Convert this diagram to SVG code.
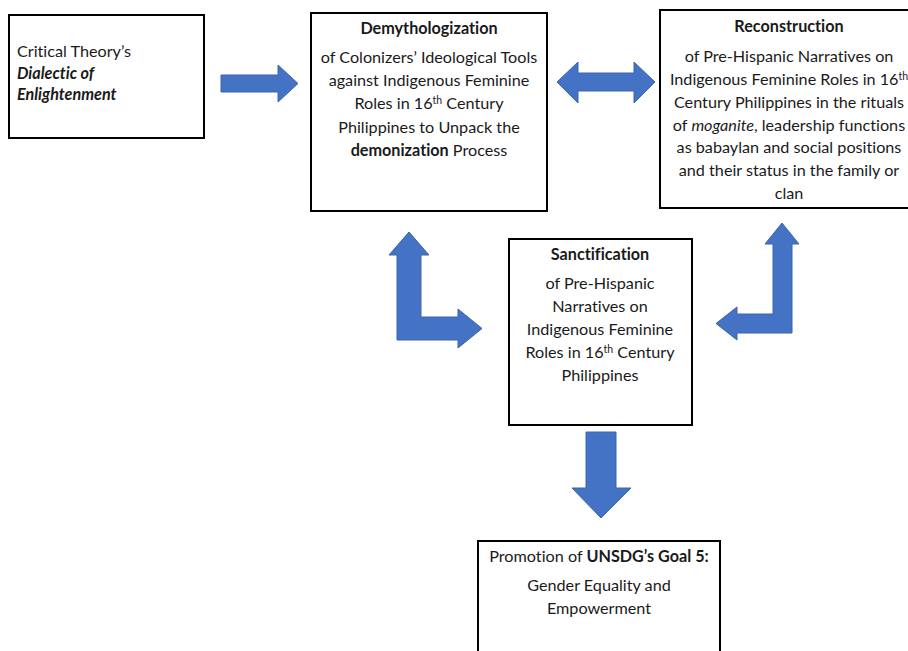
<svg xmlns="http://www.w3.org/2000/svg" width="908" height="651" viewBox="0 0 908 651">
<style>
.box{fill:#fff;stroke:#000;stroke-width:2}
.arr{fill:#4472C4;stroke:#3b64ad;stroke-width:1}
text{font-family:Lato,"Liberation Sans",sans-serif;font-size:16.2px;fill:#1a1a1a;font-variant-ligatures:none}
.c{text-anchor:middle}
.b{font-weight:bold}
.i{font-style:italic}
.sup{font-size:10.5px}
</style>
<rect width="908" height="651" fill="#fff"/>
<g id="connectors">
<polygon class="arr" points="221,75 278,75 278,65 298,83.5 278,102 278,92 221,92"/>
<polygon class="arr" points="557,82 578,62 578,73 634,73 634,62 655,82 634,103 634,91 578,91 578,103"/>
<polygon class="arr" points="409,232 429,255 421,255 421,317 458,317 458,309 482,328.5 458,348 458,340 397,340 397,255 389,255"/>
<polygon class="arr" points="782,223 799,244 792,244 792,333 737,333 737,340 716,323.5 737,307 737,314 773,314 773,244 765,244"/>
<polygon class="arr" points="586,432 616,432 616,488 631,488 601,518 572,488 586,488"/>
</g>
<g id="critical-theory">
<rect class="box" x="9" y="15" width="195" height="123"/>
<text x="17" y="57">Critical Theory’s</text>
<text x="17" y="79" class="b i">Dialectic of</text>
<text x="17" y="100" class="b i">Enlightenment</text>
</g>
<g id="demythologization">
<rect class="box" x="311" y="13" width="236" height="198"/>
<text x="429" y="34" class="c b">Demythologization</text>
<text x="429" y="63" class="c">of Colonizers’ Ideological Tools</text>
<text x="429" y="86" class="c">against Indigenous Feminine</text>
<text x="429" y="109" class="c">Roles in 16<tspan class="sup" dy="-5">th</tspan><tspan dy="5"> Century</tspan></text>
<text x="429" y="133" class="c">Philippines to Unpack the</text>
<text x="429" y="156" class="c"><tspan class="b">demonization</tspan> Process</text>
</g>
<g id="reconstruction">
<rect class="box" x="660" y="10" width="252" height="198"/>
<text x="789" y="32" class="c b">Reconstruction</text>
<text x="789" y="62" class="c">of Pre-Hispanic Narratives on</text>
<text x="789" y="85" class="c">Indigenous Feminine Roles in 16<tspan class="sup" dy="-5">th</tspan></text>
<text x="789" y="108" class="c">Century Philippines in the rituals</text>
<text x="789" y="131" class="c">of <tspan class="i">moganite</tspan>, leadership functions</text>
<text x="789" y="153" class="c">as babaylan and social positions</text>
<text x="789" y="176" class="c">and their status in the family or</text>
<text x="789" y="199" class="c">clan</text>
</g>
<g id="sanctification">
<rect class="box" x="509" y="239" width="183" height="186"/>
<text x="600" y="260" class="c b">Sanctification</text>
<text x="600" y="289" class="c">of Pre-Hispanic</text>
<text x="600" y="312" class="c">Narratives on</text>
<text x="600" y="335" class="c">Indigenous Feminine</text>
<text x="600" y="358" class="c">Roles in 16<tspan class="sup" dy="-5">th</tspan><tspan dy="5"> Century</tspan></text>
<text x="600" y="381" class="c">Philippines</text>
</g>
<g id="promotion">
<rect class="box" x="478" y="541" width="242" height="120"/>
<text x="599" y="562" class="c">Promotion of <tspan class="b">UNSDG’s Goal 5:</tspan></text>
<text x="599" y="591" class="c">Gender Equality and</text>
<text x="599" y="614" class="c">Empowerment</text>
</g>
</svg>
